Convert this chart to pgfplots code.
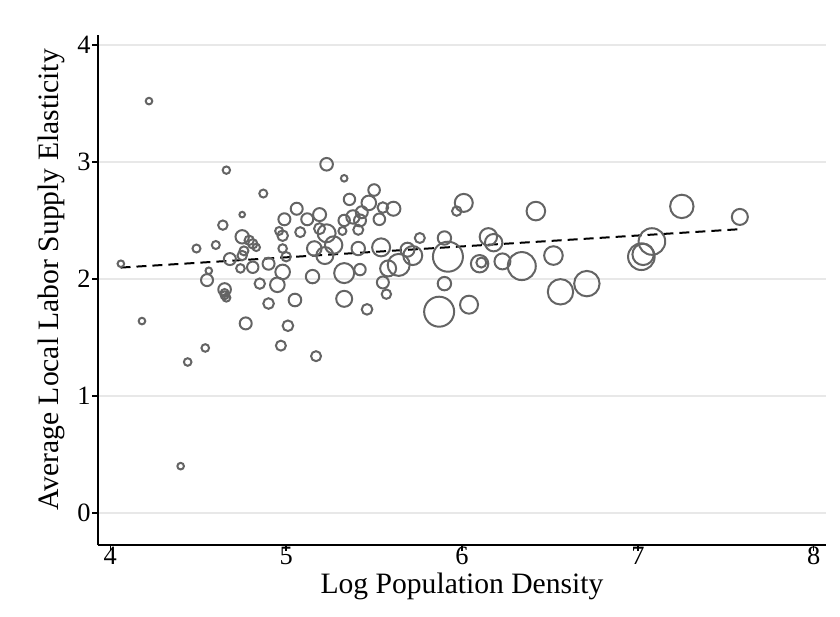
\documentclass[border=0pt]{standalone}
\usepackage{fontspec}
\setmainfont{Liberation Serif}
\usepackage{pgfplots}
\pgfplotsset{compat=1.18}
\definecolor{cgray}{RGB}{100,100,100}
\definecolor{gridgray}{RGB}{232,232,232}

\pgfplotstableread{
x y r
4.06 2.13 3.3
4.22 3.52 3.3
4.18 1.64 3.3
4.40 0.40 3.3
4.44 1.29 3.8
4.54 1.41 3.8
4.49 2.26 4.0
4.56 2.07 3.3
4.55 1.99 6.0
4.60 2.29 4.0
4.64 2.46 4.7
4.66 2.93 3.7
4.65 1.91 6.3
4.65 1.88 4.0
4.65 1.86 4.0
4.66 1.84 4.0
4.75 2.55 2.8
4.75 2.36 6.7
4.79 2.33 4.7
4.81 2.30 4.7
4.83 2.27 3.7
4.76 2.24 4.5
4.75 2.20 4.7
4.68 2.17 6.0
4.74 2.09 4.3
4.81 2.10 5.7
4.77 1.62 6.0
4.87 2.73 4.0
4.90 2.13 6.0
4.85 1.96 5.2
4.90 1.79 5.3
4.97 1.43 5.0
4.96 2.41 4.0
4.98 2.37 5.3
4.99 2.51 6.0
4.98 2.26 4.3
5.00 2.19 4.7
4.98 2.06 7.3
4.95 1.95 7.3
5.01 1.60 5.3
5.05 1.82 6.3
5.06 2.60 6.0
5.08 2.40 5.0
5.12 2.51 6.0
5.15 2.02 6.7
5.16 2.26 7.3
5.17 1.34 5.0
5.19 2.43 5.5
5.19 2.55 6.5
5.23 2.98 6.3
5.23 2.39 9.0
5.27 2.29 8.7
5.22 2.20 8.5
5.33 2.86 3.3
5.33 2.50 5.7
5.38 2.53 6.7
5.42 2.50 6.0
5.43 2.57 6.0
5.36 2.68 5.7
5.47 2.65 7.3
5.50 2.76 5.8
5.55 2.61 5.3
5.61 2.60 7.0
5.53 2.51 5.8
5.32 2.41 4.0
5.41 2.42 5.0
5.41 2.26 6.7
5.54 2.27 9.0
5.33 2.05 10.0
5.42 2.08 5.7
5.33 1.83 8.0
5.46 1.74 5.3
5.55 1.97 6.0
5.57 1.87 4.7
5.58 2.09 8.0
5.64 2.12 11.0
5.69 2.25 7.0
5.72 2.20 9.5
5.76 2.35 5.0
5.90 2.35 6.7
5.92 2.19 15.0
5.90 1.96 6.7
5.87 1.72 15.0
6.04 1.78 9.0
6.01 2.65 9.0
5.97 2.58 4.7
6.10 2.13 8.7
6.11 2.14 5.0
6.15 2.36 8.7
6.18 2.31 8.7
6.23 2.15 8.0
6.34 2.11 14.0
6.42 2.58 9.3
6.52 2.20 9.3
6.56 1.89 12.7
6.71 1.96 12.7
7.02 2.19 13.3
7.03 2.21 10.7
7.08 2.32 13.3
7.25 2.62 11.7
7.58 2.53 8.0
}\circles

\begin{document}
\begin{tikzpicture}
\path[use as bounding box] (0,0) rectangle (420pt,308pt);
\begin{axis}[
  at={(49pt,35.5pt)}, anchor=south west,
  scale only axis, width=364pt, height=255pt,
  xmin=3.93, xmax=8.07, ymin=-0.274, ymax=4.085,
  axis lines*=left,
  x axis line style={-}, y axis line style={-},
  axis line style={black, line width=0.7pt},
  xtick={4,5,6,7,8}, ytick={0,1,2,3,4},
  tick align=outside, major tick length=3pt,
  tick style={black, line width=0.7pt},
  ymajorgrids, grid style={gridgray, line width=0.8pt},
  /pgf/number format/assume math mode=true,
  ticklabel style={font=\fontsize{13.2}{15}\selectfont},
  xticklabel style={inner sep=0pt, yshift=2.2pt},
  yticklabel style={inner sep=0pt, xshift=-0.5pt},
  xlabel={Log Population Density},
  ylabel={Average Local Labor Supply Elasticity},
  every axis x label/.style={at={(axis description cs:0.5,0)}, anchor=base, inner sep=0pt, yshift=-24.3pt, font=\fontsize{14.8}{17}\selectfont},
  every axis y label/.style={at={(axis description cs:-0.0646,0.52)}, rotate=90, anchor=center, inner sep=0pt, font=\fontsize{14.8}{17}\selectfont},
  clip=false,
]
\addplot[scatter, only marks, mark=o, line width=1pt,
  point meta=\thisrow{r},
  scatter/use mapped color={draw=cgray, fill=none},
  mark options={line width=1pt},
  visualization depends on={\thisrow{r}/2 \as \rr},
  scatter/@pre marker code/.append style={/tikz/mark size=\rr pt}]
  table {\circles};
\addplot[black, line width=1pt, dash pattern=on 5pt off 3pt] coordinates {(4.058,2.097) (7.577,2.425)};
\end{axis}
\end{tikzpicture}
\end{document}
